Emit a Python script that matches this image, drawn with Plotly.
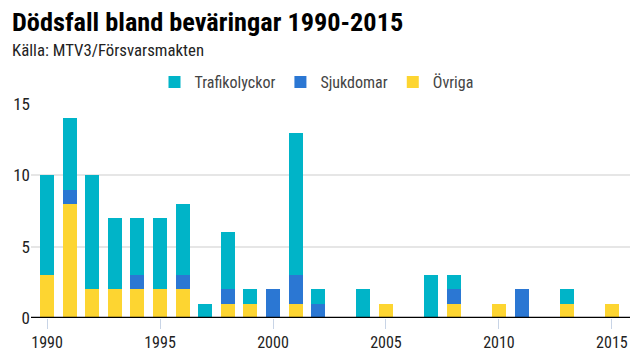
import plotly.graph_objects as go

years = list(range(1990, 2016))
trafikolyckor = [7, 5, 8, 5, 4, 5, 5, 1, 4, 1, 0, 10, 1, 0, 2, 0, 0, 3, 1, 0, 0, 0, 0, 1, 0, 0]
sjukdomar     = [0, 1, 0, 0, 1, 0, 1, 0, 1, 0, 2, 2, 1, 0, 0, 0, 0, 0, 1, 0, 0, 2, 0, 0, 0, 0]
ovriga        = [3, 8, 2, 2, 2, 2, 2, 0, 1, 1, 0, 1, 0, 0, 0, 1, 0, 0, 1, 0, 1, 0, 0, 1, 0, 1]

FONT = "Roboto Condensed, Roboto, sans-serif"

# page body has an 8px margin; compensate so the plot lands where the reference has it
L, R, T, B = 23, 18, 96, 50
PW, PH = 640 - L - R, 360 - T - B

fig = go.Figure()
fig.add_bar(x=years, y=ovriga, name="Övriga", marker_color="#fdd531", marker_line_width=0)
fig.add_bar(x=years, y=sjukdomar, name="Sjukdomar", marker_color="#2b77d3", marker_line_width=0)
fig.add_bar(x=years, y=trafikolyckor, name="Trafikolyckor", marker_color="#00b4c8", marker_line_width=0)

fig.update_layout(
    width=640, height=360,
    barmode="stack", bargap=0.38,
    paper_bgcolor="white", plot_bgcolor="white",
    margin=dict(l=L, r=R, t=T, b=B, autoexpand=False),
    font=dict(family=FONT, size=16, color="#222"),
    showlegend=True,
    legend=dict(orientation="h", x=0.5 - 14 / PW, xanchor="center", y=1 + (104 - 82) / PH, yanchor="middle",
                traceorder="reversed", font=dict(size=16, color="#444"),
                itemwidth=30),
    annotations=[
        dict(text="<b>Dödsfall bland beväringar 1990-2015</b>", xref="paper", yref="paper",
             x=(2 - L) / PW, y=1 + (104 - 22) / PH, xanchor="left", yanchor="middle",
             showarrow=False, font=dict(size=26.3, color="#000", family=FONT)),
        dict(text="Källa: MTV3/Försvarsmakten", xref="paper", yref="paper",
             x=(2 - L) / PW, y=1 + (104 - 50) / PH, xanchor="left", yanchor="middle",
             showarrow=False, font=dict(size=16.8, color="#222", family=FONT)),
    ],
)
fig.update_xaxes(range=[1989.29, 2015.8], tickvals=[1990, 1995, 2000, 2005, 2010, 2015],
                 showgrid=False, ticks="outside", ticklen=10, tickcolor="#c8d4e6", tickwidth=1,
                 showline=False, zeroline=False, tickfont=dict(size=16, color="#222"))
fig.update_yaxes(range=[0, 15], tickvals=[0, 5, 10, 15], showgrid=True, gridcolor="#e6e6e6",
                 gridwidth=2, zeroline=False, showline=False, ticks="",
                 tickfont=dict(size=17, color="#222"))
fig.add_shape(type="line", xref="paper", yref="y", x0=0, x1=1, y0=0, y1=0,
              line=dict(color="#000", width=2.5))

fig.write_html("out.html")
